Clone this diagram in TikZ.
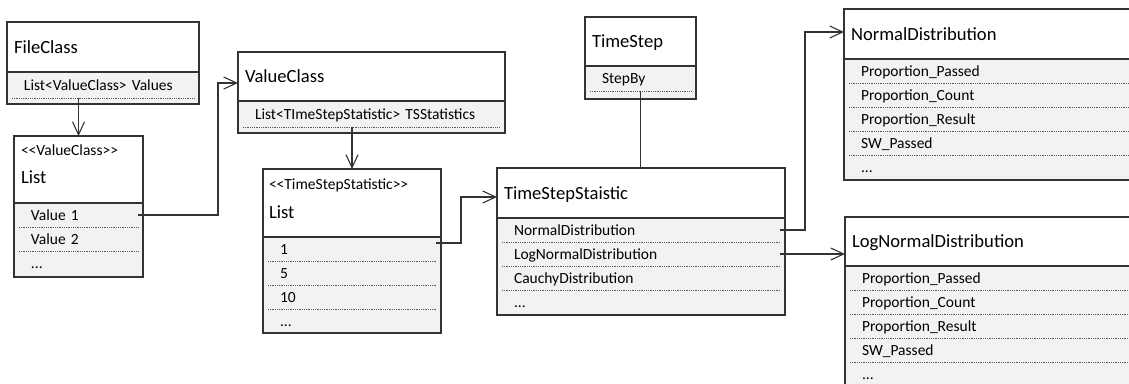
\documentclass[tikz,border=0pt]{standalone}
\usepackage{fontspec}
\setmainfont{Carlito}
\usepackage{xcolor}
\usepackage{tikz}
\usetikzlibrary{positioning,arrows.meta}
\definecolor{linecolor}{HTML}{333333}
\definecolor{bodycolor}{HTML}{F2F2F2}
\newcommand{\titlesize}{\fontsize{18.6}{22}\selectfont}
\newcommand{\itemsize}{\fontsize{15.5}{18}\selectfont}

\begin{document}
\begin{tikzpicture}[
    x=1pt, y=-1pt,
    line width=1.4pt,
    every node/.style={outer sep=0pt},
    head/.style={draw=linecolor, fill=white, anchor=north west,
                 text width=#1, align=left, inner xsep=7pt, inner ysep=0pt,
                 text height=12pt, text depth=0pt, font=\titlesize},
    body/.style={draw=linecolor, fill=bodycolor, minimum width=#1, inner sep=0pt},
    row/.style={text width=#1, align=left, inner sep=0pt, minimum height=24pt,
                text height=10pt, text depth=0pt, font=\itemsize,
                execute at begin node=\hspace*{12pt}},
    stereo/.style={inner sep=0pt, text height=10pt, text depth=0pt, font=\itemsize},
    title/.style={inner sep=0pt, text height=12pt, text depth=0pt, font=\titlesize},
    dots/.style={draw=gray!70!black, line width=0.8pt, dash pattern=on 1pt off 0.8pt},
    assoc/.style={draw=linecolor, line width=1.1pt, -{Straight Barb[length=13pt, width=12pt]}},
    link/.style={draw=linecolor, line width=1.1pt}
]
\clip (0,0) rectangle (1129,383);

\node[head=178, minimum height=50pt] (fileHead) at (7,22) {FileClass};
\node[body=192, minimum height=32pt, below=0pt of fileHead] (fileBody) {};
\node[row=182, minimum height=26pt, below=0pt of fileBody.north] (fileR1) {List<ValueClass> Values};

\node[head=115, minimum height=67pt] (valHead) at (14,136) {};
\node[stereo, below right=9pt and 7pt of valHead.north west] (valStereo) {<\kern0pt<ValueClass>\kern0pt>};
\node[title, below right=35pt and 7pt of valHead.north west] (valTitle) {List};
\node[body=129, minimum height=74pt, below=0pt of valHead] (valBody) {};
\node[row=119, below=0pt of valBody.north] (valR1) {Value 1};
\node[row=119, below=0pt of valR1] (valR2) {Value 2};
\node[row=119, below=0pt of valR2] (valR3) {...};

\node[head=253, minimum height=49pt] (vcHead) at (238,52) {ValueClass};
\node[body=267, minimum height=32pt, below=0pt of vcHead] (vcBody) {};
\node[row=257, minimum height=26pt, below=0pt of vcBody.north] (vcR1) {List<TImeStepStatistic> TSStatistics};

\node[head=164, minimum height=68pt] (tsHead) at (263,169) {};
\node[stereo, below right=10pt and 6pt of tsHead.north west] (tsStereo) {<\kern0pt<TimeStepStatistic>\kern0pt>};
\node[title, below right=37pt and 6pt of tsHead.north west] (tsTitle) {List};
\node[body=178, minimum height=96pt, below=0pt of tsHead] (tsBody) {};
\node[row=168, below=0pt of tsBody.north] (tsR1) {1};
\node[row=168, below=0pt of tsR1] (tsR2) {5};
\node[row=168, below=0pt of tsR2] (tsR3) {10};
\node[row=168, below=0pt of tsR3] (tsR4) {...};

\node[head=97, minimum height=49pt] (stepHead) at (585,17) {TimeStep};
\node[body=111, minimum height=33pt, below=0pt of stepHead] (stepBody) {};
\node[row=101, minimum height=25pt, below=0pt of stepBody.north] (stepR1) {StepBy};

\node[head=274, minimum height=50pt] (tssHead) at (497,168) {TimeStepStaistic};
\node[body=288, minimum height=97pt, below=0pt of tssHead] (tssBody) {};
\node[row=278, below=0pt of tssBody.north] (tssR1) {NormalDistribution};
\node[row=278, below=0pt of tssR1] (tssR2) {LogNormalDistribution};
\node[row=278, below=0pt of tssR2] (tssR3) {CauchyDistribution};
\node[row=278, below=0pt of tssR3] (tssR4) {...};

\node[head=306, minimum height=50pt] (ndHead) at (844,9) {NormalDistribution};
\node[body=320, minimum height=121pt, below=0pt of ndHead] (ndBody) {};
\node[row=310, below=0pt of ndBody.north] (ndR1) {Proportion\_Passed};
\node[row=310, below=0pt of ndR1] (ndR2) {Proportion\_Count};
\node[row=310, below=0pt of ndR2] (ndR3) {Proportion\_Result};
\node[row=310, below=0pt of ndR3] (ndR4) {SW\_Passed};
\node[row=310, below=0pt of ndR4] (ndR5) {...};

\node[head=306, minimum height=49pt] (lnHead) at (845,217) {LogNormalDistribution};
\node[body=320, minimum height=130pt, below=0pt of lnHead] (lnBody) {};
\node[row=310, below=0pt of lnBody.north] (lnR1) {Proportion\_Passed};
\node[row=310, below=0pt of lnR1] (lnR2) {Proportion\_Count};
\node[row=310, below=0pt of lnR2] (lnR3) {Proportion\_Result};
\node[row=310, below=0pt of lnR3] (lnR4) {SW\_Passed};
\node[row=310, below=0pt of lnR4] (lnR5) {...};

\foreach \r in {fileR1, valR1, valR2, vcR1, tsR1, tsR2, tsR3, stepR1,
                tssR1, tssR2, tssR3, ndR1, ndR2, ndR3, ndR4, lnR1, lnR2, lnR3, lnR4}
    \draw[dots] (\r.south west) -- (\r.south east);

\draw[assoc] (fileR1.south -| valHead.north) -- (valHead.north);
\draw[assoc] (valR1.east) -- ++(80,0) |- ([yshift=-6.5pt]vcHead.west);
\draw[assoc] (vcR1.south -| tsHead.north) -- (tsHead.north);
\draw[assoc] ([yshift=6pt]tsR1.east) -- ++(25,0) |- ([yshift=-4pt]tssHead.west);
\draw[link] (stepR1.south) -- (stepR1.south |- tssHead.north);
\draw[assoc] (tssR1.east) -- ++(25,0) |- ([yshift=2pt]ndHead.west);
\draw[assoc] (tssR2.east) -- (tssR2.east -| lnHead.west);
\end{tikzpicture}
\end{document}
